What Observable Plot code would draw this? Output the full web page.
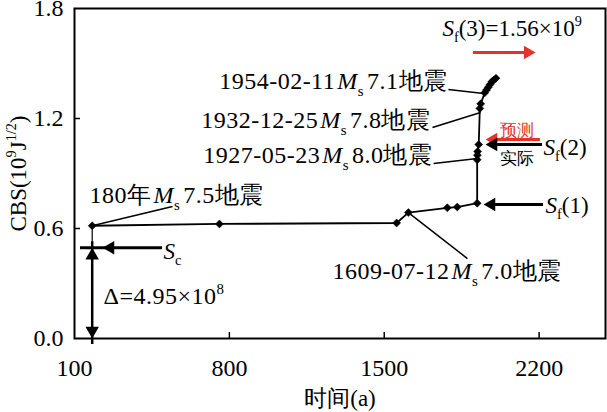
<!DOCTYPE html>
<html><head><meta charset="utf-8">
<script src="https://cdn.jsdelivr.net/npm/d3@7"></script>
<script src="https://cdn.jsdelivr.net/npm/@observablehq/plot@0.6"></script>
<style>
body{margin:0;background:#fff}
.quake text{letter-spacing:0.5px}
</style>
</head><body><div id="chart"></div>
<script>
// ---- data ----
const years = [180, 755, 1556, 1609, 1785, 1830, 1920, 1920, 1921, 1922, 1927, 1932, 1936, 1954, 1962, 1970, 1978, 1986, 1995, 2005];
const cbs   = [0.615, 0.625, 0.630, 0.687, 0.713, 0.717, 0.738, 0.975, 1.0, 1.02, 1.058, 1.255, 1.28, 1.34, 1.355, 1.37, 1.385, 1.40, 1.41, 1.42];
const xTicks = [100, 800, 1500, 2200];
const yTicks = [0, 0.6, 1.2, 1.8];
const Sc = 0.495, Sf1 = 0.731, Sf2 = 1.058, Sf2pred = 1.085, Sf3 = 1.56;

// earthquake / Δ annotations
const quakeText = [
  "180年{dx|2}{i|M}{sub|s}{dx|3}7.5地震",
  "1954-02-11{dx|2}{i|M}{sub|s}{dx|3}7.1地震",
  "1932-12-25{dx|2}{i|M}{sub|s}{dx|3}7.8地震",
  "1927-05-23{dx|2}{i|M}{sub|s}{dx|3}8.0地震",
  "1609-07-12{dx|2}{i|M}{sub|s}{dx|3}7.0地震",
  "Δ=4.95×10{sup|8}"
];
const quakeX = [168, 1786, 1709, 1718, 1266, 231];
const quakeY = [0.78, 1.402, 1.189, 0.998, 0.365, 0.229];
const quakeAnchor = ["start", "end", "end", "end", "start", "start"];

// S labels
const sText = ["{i|S}{sub|c}", "{i|S}{sub|f}(1)", "{i|S}{sub|f}(2)", "{i|S}{sub|f}(3)=1.56×10{sup|9}"];
const sX = [502, 2229, 2220, 1763];
const sY = [0.475, 0.725, 1.042, 1.691];

const smallText = ["预测", "实际"];
const smallX = [2102, 2102];
const smallY = [1.135, 0.982];
const smallColor = ["#e5322b", "black"];

// leader lines
const leadX1 = [180, 1790, 1718, 1723, 1609];
const leadY1 = [0.615, 1.358, 1.151, 0.955, 0.687];
const leadX2 = [543, 1949, 1935, 1921, 1876];
const leadY2 = [0.72, 1.336, 1.233, 0.982, 0.436];

// horizontal arrows (tip, tail, level, colour, direction)
const arrTip   = [1958, 1958, 1949, 2184];
const arrTail  = [2206, 2215, 2220, 1903];
const arrLevel = [Sf2pred, Sf2, Sf1, Sf3];
const arrColor = ["#e5322b", "black", "black", "#e5322b"];
const arrDir   = ["left", "left", "left", "right"];

const pts = years.map((x, i) => ({x, y: cbs[i]}));
const quake = quakeText.map((t, i) => ({t, x: quakeX[i], y: quakeY[i], a: quakeAnchor[i]}));
const slab = sText.map((t, i) => ({t, x: sX[i], y: sY[i]}));
const small = smallText.map((t, i) => ({t, x: smallX[i], y: smallY[i], c: smallColor[i]}));
const leads = leadX1.map((x1, i) => ({x1, y1: leadY1[i], x2: leadX2[i], y2: leadY2[i]}));
const arrows = arrTip.map((tip, i) => ({tip, tail: arrTail[i], y: arrLevel[i], c: arrColor[i], d: arrDir[i]}));
const leftA = arrows.filter(a => a.d === "left");
const rightA = arrows.filter(a => a.d === "right");

const R = 5, TIP = 1.555 * R;

const plot = Plot.plot({
  width: 607, height: 412,
  marginLeft: 74, marginRight: 2, marginTop: 8, marginBottom: 74,
  style: {fontSize: "23px", color: "black", background: "white"},
  x: {domain: [100, 2500]},
  y: {domain: [0, 1.8]},
  marks: [
    Plot.axisX({ticks: xTicks, tickSize: 0, tickPadding: 20, label: null, fontSize: 24, tickFormat: d => String(d)}),
    Plot.axisY({ticks: yTicks, tickSize: 0, tickPadding: 11, label: null, fontSize: 24, tickFormat: d => d.toFixed(1)}),
    Plot.ruleX(xTicks.slice(1), {stroke: "black", strokeWidth: 1.5, insetTop: 324}),
    Plot.ruleY(yTicks.slice(1, 3), {stroke: "black", strokeWidth: 1.5, insetRight: 525}),
    // Sc line and vertical connectors
    Plot.ruleY([Sc], {x1: 127, x2: 498, stroke: "black", strokeWidth: 3}),
    Plot.ruleX([180], {y1: Sc, y2: pts[0].y, stroke: "black", strokeWidth: 1.2}),
    Plot.ruleX([180], {y1: 0, y2: Sc, stroke: "black", strokeWidth: 2.5, insetTop: 6, insetBottom: 6}),
    Plot.dot([{x: 180, y: Sc}], {x: "x", y: "y", symbol: "triangle", r: R, fill: "black", rotate: 0, dy: TIP}),
    Plot.dot([{x: 180, y: 0}], {x: "x", y: "y", symbol: "triangle", r: R, fill: "black", rotate: 180, dy: -TIP}),
    Plot.dot([{x: 227, y: Sc}], {x: "x", y: "y", symbol: "triangle", r: R, fill: "black", rotate: -90, dx: TIP}),
    // horizontal arrows
    Plot.ruleY(leftA, {y: "y", x1: "tip", x2: "tail", stroke: "c", strokeWidth: 3, insetLeft: 6}),
    Plot.dot(leftA, {x: "tip", y: "y", symbol: "triangle", r: R, fill: "c", rotate: -90, dx: TIP}),
    Plot.ruleY(rightA, {y: "y", x1: "tail", x2: "tip", stroke: "c", strokeWidth: 3, insetRight: 6}),
    Plot.dot(rightA, {x: "tip", y: "y", symbol: "triangle", r: R, fill: "c", rotate: 90, dx: -TIP}),
    // leaders
    Plot.link(leads, {x1: "x1", y1: "y1", x2: "x2", y2: "y2", stroke: "black", strokeWidth: 1.5}),
    // series
    Plot.line(pts, {x: "x", y: "y", stroke: "black", strokeWidth: 1.8}),
    Plot.dot(pts, {x: "x", y: "y", symbol: "diamond2", r: 3.6, fill: "black", stroke: "black", strokeWidth: 0.5}),
    // texts
    Plot.text(quake.filter(d => d.a === "start"), {x: "x", y: "y", text: "t", textAnchor: "start", fontSize: 24, fill: "black", className: "quake"}),
    Plot.text(quake.filter(d => d.a === "end"), {x: "x", y: "y", text: "t", textAnchor: "end", fontSize: 24, fill: "black", className: "quake"}),
    Plot.text(slab, {x: "x", y: "y", text: "t", textAnchor: "start", fontSize: 23, fill: "black"}),
    Plot.text(small, {x: "x", y: "y", text: "t", fontSize: 17, fill: "c"}),
    // axis labels
    Plot.text(["CBS(10{sup|9}J{sup|1/2})"], {frameAnchor: "left", textAnchor: "middle", lineAnchor: "middle", rotate: -90, dx: -56, fontSize: 23, fill: "black"}),
    Plot.text(["时间(a)"], {frameAnchor: "bottom", textAnchor: "middle", lineAnchor: "middle", dy: 60, fontSize: 23, fill: "black"}),
    Plot.frame({stroke: "black", strokeWidth: 2})
  ]
});
document.getElementById("chart").appendChild(plot);

plot.setAttribute("font-family", "Liberation Serif");
plot.style.fontFamily = "'Liberation Serif', serif";

// convert mini markup into tspans
const NS = "http://www.w3.org/2000/svg";
plot.querySelectorAll("text").forEach(t => {
  const s = t.textContent;
  if (!s.includes("{")) return;
  const fs = parseFloat(getComputedStyle(t).fontSize) || 23;
  const re = /\{(i|sub|sup|dx)\|([^}]*)\}/g;
  const segs = [];
  let last = 0, m;
  while ((m = re.exec(s))) {
    if (m.index > last) segs.push({k: "n", v: s.slice(last, m.index)});
    segs.push({k: m[1], v: m[2]});
    last = re.lastIndex;
  }
  if (last < s.length) segs.push({k: "n", v: s.slice(last)});
  while (t.firstChild) t.removeChild(t.firstChild);
  let cur = 0, pendingDx = 0;
  for (const sg of segs) {
    if (sg.k === "dx") { pendingDx += +sg.v; continue; }
    const ts = document.createElementNS(NS, "tspan");
    let target = 0;
    if (sg.k === "sub") { target = 0.28 * fs; ts.setAttribute("font-size", (0.62 * fs) + "px"); }
    if (sg.k === "sup") { target = -0.42 * fs; ts.setAttribute("font-size", (0.62 * fs) + "px"); }
    if (sg.k === "i") ts.setAttribute("font-style", "italic");
    if (target !== cur) { ts.setAttribute("dy", (target - cur) + "px"); cur = target; }
    if (pendingDx) { ts.setAttribute("dx", pendingDx + "px"); pendingDx = 0; }
    ts.textContent = sg.v;
    t.appendChild(ts);
  }
});
</script>
</body></html>
